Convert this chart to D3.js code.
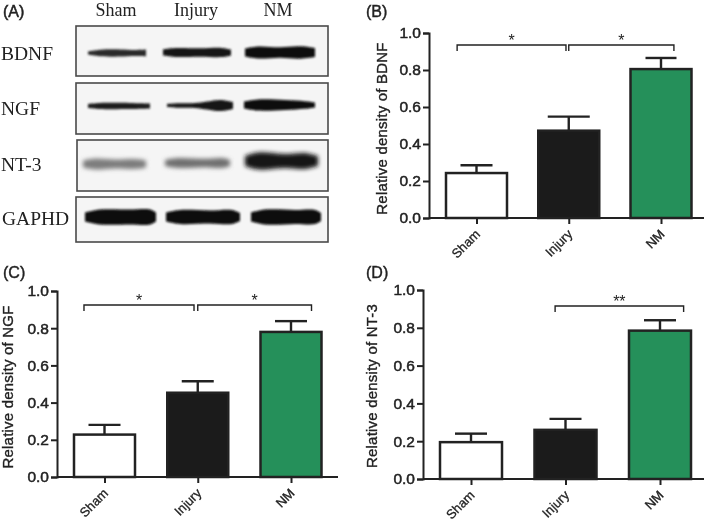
<!DOCTYPE html>
<html><head><meta charset="utf-8">
<script src="https://cdn.jsdelivr.net/npm/d3@7/dist/d3.min.js"></script>
<style>
html,body{margin:0;padding:0;background:#fff}
svg{display:block;filter:blur(.3px)}
.sans{font-family:"Liberation Sans",Arial,sans-serif;fill:#222}
.serif{font-family:"Liberation Serif","Times New Roman",serif;fill:#222}
</style></head><body>
<svg id="c" width="709" height="522"></svg>
<script>
// ---- data ----
const categories = ["Sham", "Injury", "NM"];
const bdnfMeans = [0.243, 0.472, 0.805];
const bdnfTops  = [0.285, 0.548, 0.865];
const ngfMeans  = [0.228, 0.453, 0.78];
const ngfTops   = [0.28, 0.515, 0.838];
const nt3Means  = [0.195, 0.26, 0.785];
const nt3Tops   = [0.24, 0.318, 0.84];
const yTicks = [0, 0.2, 0.4, 0.6, 0.8, 1.0];
const barFills = ["#ffffff", "#1b1b1b", "#25905a"];
const bdnfBrackets = [{from:-0.21,to:0.97,y:0.935,label:"*"},{from:1.0,to:2.14,y:0.935,label:"*"}];
const ngfBrackets  = [{from:-0.22,to:0.96,y:0.925,label:"*"},{from:1.0,to:2.22,y:0.925,label:"*"}];
const nt3Brackets  = [{from:0.89,to:2.25,y:0.915,label:"**"}];
const blotNames = ["BDNF", "NGF", "NT-3", "GAPHD"];
// blot bands: per lane, [position along lane, half thickness, in blot units]
const bdnfBands = [
 {ink:.86,y:53,p:[[88,1.5],[100,3.2],[120,3.6],[135,3],[146,3.4]]},
 {ink:.95,y:52.5,p:[[163,3],[175,4.4],[200,4.2],[222,4.6],[231,3]]},
 {ink:1,y:52.5,p:[[245,4],[258,6],[280,5.2],[300,6.2],[315,4.5]]}];
const ngfBands = [
 {ink:.92,y:106,p:[[88,2],[100,3],[130,3],[150,2.4]]},
 {ink:.95,y:105.5,p:[[167,1.5],[178,2.2],[195,2.4],[207,4],[220,5.6],[233,3.5]]},
 {ink:1,y:105,p:[[244,3.5],[258,5.6],[285,5],[305,3.8],[315,2.5]]}];
const nt3Bands = [
 {ink:.52,y:164,p:[[83,3.5],[95,5.5],[115,4.5],[135,5],[146,3.5]]},
 {ink:.58,y:163,p:[[165,3],[178,5],[205,4.2],[222,5],[230,3]]},
 {ink:.95,y:161,p:[[245,5],[258,8.5],[285,7],[305,8],[318,5]]}];
const gaphdBands = [
 {ink:1,y:217,p:[[85,4.5],[100,7.5],[130,7.5],[150,7.5],[156,4.5]]},
 {ink:1,y:217,p:[[166,4.5],[180,7],[210,6.5],[232,7],[240,4]]},
 {ink:1,y:217,p:[[251,4.5],[265,7.5],[295,7],[315,7],[321,4]]}];

// ---- layout ----
const panels = [
 {tag:"(B)",tagX:366,tagY:17,means:bdnfMeans,tops:bdnfTops,br:bdnfBrackets,caps:[32,42,31],name:"BDNF",ax:429,axEnd:704,c0:476.5,c2:661,bw:61,y0:218,y1:33,labX:387,labY:128.5},
 {tag:"(C)",tagX:3,tagY:278,means:ngfMeans,tops:ngfTops,br:ngfBrackets,caps:[32,32,32],name:"NGF",ax:57,axEnd:338,c0:104.5,c2:291,bw:61,y0:477,y1:291,labX:13,labY:387},
 {tag:"(D)",tagX:366,tagY:278,means:nt3Means,tops:nt3Tops,br:nt3Brackets,caps:[32,32,32],name:"NT-3",ax:423,axEnd:704,c0:471,c2:660,bw:62,y0:479,y1:290,labX:377,labY:386}
];
const svg = d3.select("#c");
const defs = svg.append("defs");
defs.append("filter").attr("id","bl").attr("x","-10%").attr("y","-60%").attr("width","120%").attr("height","220%")
  .append("feGaussianBlur").attr("stdDeviation","1.3");
defs.append("filter").attr("id","bl2").attr("x","-10%").attr("y","-60%").attr("width","120%").attr("height","220%")
  .append("feGaussianBlur").attr("stdDeviation","2.2");

// ---- panel A ----
svg.append("text").attr("class","sans").attr("x",3).attr("y",17).attr("font-size",16).attr("stroke","#222").attr("stroke-width",.5).text("(A)");
const laneX = [116, 196, 278];
svg.selectAll(".lane").data(categories).join("text").attr("class","serif")
  .attr("x",(d,i)=>laneX[i]).attr("y",16).attr("text-anchor","middle").attr("font-size",18).text(d=>d);
const blots = [
 {x0:76,x1:328,y0:26,y1:76,bands:bdnfBands,ty:60,soft:false},
 {x0:76,x1:328,y0:83,y1:134,bands:ngfBands,ty:115,soft:false},
 {x0:77,x1:328,y0:140,y1:191,bands:nt3Bands,ty:171,soft:true},
 {x0:76,x1:328,y0:197,y1:242,bands:gaphdBands,ty:225,soft:false}
];
blots.forEach((b,i)=>{
  svg.append("text").attr("class","serif").attr("x",i==3?2:1).attr("y",b.ty).attr("font-size",19.5).text(blotNames[i]);
  svg.append("rect").attr("x",b.x0).attr("y",b.y0).attr("width",b.x1-b.x0).attr("height",b.y1-b.y0)
     .attr("fill","#f5f5f5").attr("stroke","#4a4a4a").attr("stroke-width",1.6);
  b.bands.forEach(t=>{
    const area = d3.area().x(d=>d[0]).y0(d=>t.y-d[1]).y1(d=>t.y+d[1]).curve(d3.curveCatmullRom);
    const v = Math.round(240*(1-t.ink)+10);
    svg.append("path").attr("d",area(t.p)).attr("fill",d3.rgb(v,v,v))
       .attr("filter",b.soft?"url(#bl2)":"url(#bl)");
  });
});

// ---- bar panels ----
panels.forEach(p=>{
  const g = svg.append("g");
  const x = d3.scalePoint().domain(categories).range([p.c0,p.c2]);
  const idx = d3.scaleLinear().domain([0,2]).range([p.c0,p.c2]);
  const y = d3.scaleLinear().domain([0,1]).range([p.y0,p.y1]);
  g.selectAll("rect.bar").data(categories).join("rect").attr("class","bar")
    .attr("x",d=>x(d)-p.bw/2).attr("width",p.bw)
    .attr("y",(d,i)=>y(p.means[i])).attr("height",(d,i)=>y(0)-y(p.means[i]))
    .attr("fill",(d,i)=>barFills[i]).attr("stroke","#222").attr("stroke-width",2.5);
  g.selectAll("line.err").data(categories).join("line")
    .attr("x1",d=>x(d)).attr("x2",d=>x(d))
    .attr("y1",(d,i)=>y(p.means[i])).attr("y2",(d,i)=>y(p.tops[i]))
    .attr("stroke","#222").attr("stroke-width",2.4);
  g.selectAll("line.cap").data(categories).join("line")
    .attr("x1",(d,i)=>x(d)-p.caps[i]/2).attr("x2",(d,i)=>x(d)+p.caps[i]/2)
    .attr("y1",(d,i)=>y(p.tops[i])).attr("y2",(d,i)=>y(p.tops[i]))
    .attr("stroke","#222").attr("stroke-width",2.4);
  // axes
  const yAxis = g.append("g").attr("transform",`translate(${p.ax},0)`)
    .call(d3.axisLeft(y).tickValues(yTicks).tickFormat(d3.format(".1f")).tickSize(6).tickPadding(2));
  yAxis.selectAll("text").attr("font-size",15.5).attr("stroke","#222").attr("stroke-width",.5)
    .attr("font-family",'"Liberation Sans",Arial,sans-serif').attr("fill","#222");
  const xAxis = g.append("g").attr("transform",`translate(0,${p.y0})`)
    .call(d3.axisBottom(x).tickSize(6).tickSizeOuter(0));
  xAxis.select(".domain").remove();
  xAxis.selectAll("text").attr("font-size",13).attr("text-anchor","end")
    .attr("font-family",'"Liberation Sans",Arial,sans-serif').attr("fill","#222")
    .attr("stroke","#222").attr("stroke-width",.3)
    .attr("transform","translate(4,17) rotate(-45)").attr("dy",0).attr("y",0).attr("x",0);
  g.append("line").attr("x1",p.ax).attr("x2",p.axEnd).attr("y1",p.y0).attr("y2",p.y0).attr("stroke","#222").attr("stroke-width",2);
  g.selectAll(".tick line").attr("stroke","#222").attr("stroke-width",2);
  yAxis.select(".domain").attr("stroke","#222").attr("stroke-width",2);
  // brackets
  p.br.forEach(b=>{
    const tip = y(b.y)+6;
    g.append("path").attr("fill","none").attr("stroke","#222").attr("stroke-width",1.4)
      .attr("d",`M${idx(b.from)},${tip}V${y(b.y)}H${idx(b.to)}V${tip}`);
    g.append("text").attr("class","sans").attr("x",(idx(b.from)+idx(b.to))/2).attr("y",y(b.y)+1)
      .attr("text-anchor","middle").attr("font-size",16).text(b.label);
  });
  svg.append("text").attr("class","sans").attr("x",p.tagX).attr("y",p.tagY).attr("font-size",16)
    .attr("stroke","#222").attr("stroke-width",.4).text(p.tag);
  svg.append("text").attr("class","sans").attr("font-size",15).attr("letter-spacing",.2)
    .attr("text-anchor","middle").attr("stroke","#222").attr("stroke-width",.35)
    .attr("transform",`translate(${p.labX},${p.labY}) rotate(-90)`)
    .text("Relative density of "+p.name);
});
</script></body></html>
